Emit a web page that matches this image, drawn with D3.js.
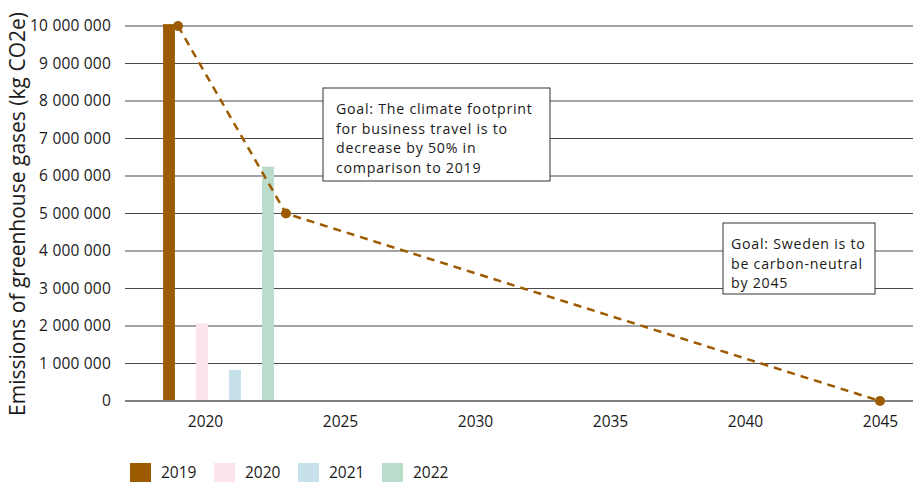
<!DOCTYPE html>
<html>
<head>
<meta charset="utf-8">
<script src="https://cdn.jsdelivr.net/npm/d3@7"></script>
<style>
  body { margin: 0; background: #fff; }
  svg { display: block; font-family: "Open Sans", sans-serif; }
</style>
</head>
<body>
<div id="chart"></div>
<script>
// bar data
var barYears = ["2019", "2020", "2021", "2022"];
var barValues = [10050000, 2070000, 830000, 6250000];
var barColors = ["#9c5b00", "#fde3ea", "#c7e1ea", "#bcdccb"];

// goal line
var goalYears = [2019, 2023, 2045];
var goalValues = [10000000, 5000000, 0];

var yTicks = [0, 1000000, 2000000, 3000000, 4000000, 5000000, 6000000, 7000000, 8000000, 9000000, 10000000];
var xTicks = [2020, 2025, 2030, 2035, 2040, 2045];

var goalNotes = [
  { lines: ["Goal: The climate footprint", "for business travel is to", "decrease by 50% in", "comparison to 2019"], x: 323, y: 88, w: 227, h: 93, pad: 13 },
  { lines: ["Goal: Sweden is to", "be carbon-neutral", "by 2045"], x: 723, y: 223, w: 152, h: 71, pad: 8 }
];

var W = 913, H = 482;
var svg = d3.select("#chart").append("svg").attr("width", W).attr("height", H);

var y = d3.scaleLinear().domain([0, 10000000]).range([401, 26]);
var x = d3.scaleLinear().domain([2020, 2045]).range([205, 880]);
var xb = d3.scaleBand().domain(barYears).range([152.5, 284.5])
  .paddingInner(0.64).paddingOuter(0.32);

var fmt = d3.formatLocale({ decimal: ".", thousands: " ", grouping: [3], currency: ["", ""] }).format(",");

// gridlines
svg.append("g").selectAll("line")
  .data(yTicks.filter(function (d) { return d > 0; }))
  .enter().append("line")
  .attr("x1", 125).attr("x2", W)
  .attr("y1", function (d) { return y(d); })
  .attr("y2", function (d) { return y(d); })
  .style("stroke", "#4a4a4a")
  .style("stroke-width", "1.2px");

// y labels
var yAxis = svg.append("g")
  .attr("transform", "translate(111,0)")
  .call(d3.axisLeft(y).tickValues(yTicks).tickFormat(fmt).tickSize(0).tickPadding(0));
yAxis.select(".domain").remove();
yAxis.selectAll("text").style("font-size", "15.5px").style("fill", "#1a1a1a")
  .style("letter-spacing", "0.2px")
  .style("font-family", "'Open Sans', sans-serif");

svg.append("text")
  .attr("transform", "translate(25,214) rotate(-90)")
  .attr("text-anchor", "middle")
  .style("font-size", "21px")
  .style("fill", "#1a1a1a")
  .text("Emissions of greenhouse gases (kg CO2e)");

// bars
svg.append("g").selectAll("rect")
  .data(barValues)
  .enter().append("rect")
  .attr("x", function (d, i) { return xb(barYears[i]); })
  .attr("width", xb.bandwidth())
  .attr("y", function (d) { return y(d); })
  .attr("height", function (d) { return y(0) - y(d); })
  .style("fill", function (d, i) { return barColors[i]; });

// zero line
svg.append("line")
  .attr("x1", 125).attr("x2", W)
  .attr("y1", y(0)).attr("y2", y(0))
  .style("stroke", "#808080")
  .style("stroke-width", "2px");

// x labels
var xAxis = svg.append("g")
  .attr("transform", "translate(0," + (y(0) + 10) + ")")
  .call(d3.axisBottom(x).tickValues(xTicks).tickFormat(d3.format("d")).tickSize(0).tickPadding(5));
xAxis.select(".domain").remove();
xAxis.selectAll("text").style("font-size", "15.5px").style("fill", "#1a1a1a")
  .style("font-family", "'Open Sans', sans-serif");

// goal line
var goalPts = goalYears.map(function (d, i) { return [x(d), y(goalValues[i])]; });
svg.append("path")
  .attr("d", d3.line()(goalPts))
  .style("fill", "none")
  .style("stroke", "#9c5b00")
  .style("stroke-width", "2.5px")
  .style("stroke-dasharray", "8,6");

svg.append("g").selectAll("circle")
  .data(goalPts)
  .enter().append("circle")
  .attr("cx", function (d) { return d[0]; })
  .attr("cy", function (d) { return d[1]; })
  .attr("r", 5)
  .style("fill", "#9c5b00");

// annotation boxes
var notes = svg.append("g").selectAll("g")
  .data(goalNotes)
  .enter().append("g");
notes.append("rect")
  .attr("x", function (d) { return d.x; })
  .attr("y", function (d) { return d.y; })
  .attr("width", function (d) { return d.w; })
  .attr("height", function (d) { return d.h; })
  .style("fill", "#fff")
  .style("stroke", "#333")
  .style("stroke-width", "1px");
notes.each(function (d) {
  var t = d3.select(this).append("text")
    .style("font-size", "14.2px")
    .style("letter-spacing", "0.75px")
    .style("fill", "#1a1a1a");
  d.lines.forEach(function (l, i) {
    t.append("tspan")
      .attr("x", d.x + d.pad)
      .attr("y", d.y + 26 + i * 19.5)
      .text(l);
  });
});

// legend
var leg = svg.append("g").selectAll("g")
  .data(barYears)
  .enter().append("g")
  .attr("transform", function (d, i) { return "translate(" + (130 + i * 84) + ",463)"; });
leg.append("rect")
  .attr("width", 21).attr("height", 19)
  .style("fill", function (d, i) { return barColors[i]; });
leg.append("text")
  .attr("x", 31).attr("y", 15)
  .style("font-size", "15.5px")
  .style("fill", "#1a1a1a")
  .text(function (d) { return d; });
</script>
</body>
</html>
